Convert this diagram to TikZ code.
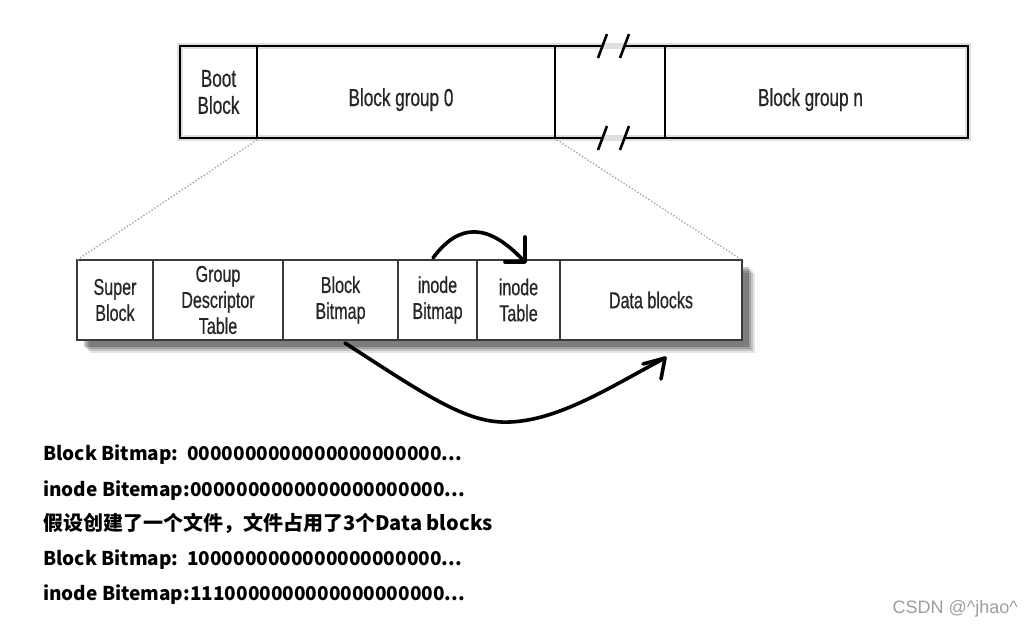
\documentclass[tikz,border=0pt]{standalone}
\usepackage{fontspec}
\usetikzlibrary{calc}
\newfontfamily\condfont{Liberation Sans}[FakeStretch=0.7, FakeBold=0.6]
\newfontfamily\cjkfont{Noto Sans CJK SC}
\newfontfamily\wmfont{Liberation Sans}
\definecolor{txtgray}{HTML}{262626}
\definecolor{lowline}{HTML}{3A3A3A}
\tikzset{
  topcell/.style={draw=black, line width=2.6pt, inner sep=0pt, outer sep=0pt, minimum height=92pt,
    align=center, text=txtgray, font=\fontsize{24.5}{27}\condfont},
  lowcell/.style={draw=lowline, fill=white, line width=1.6pt, inner sep=0pt, outer sep=0pt, minimum height=80pt,
    align=center, text=txtgray, font=\fontsize{23}{26}\condfont},
  zoomline/.style={draw=gray!75, line width=1.3pt, dotted},
  hand/.style={line width=3.6pt, line cap=round, line join=round},
  infotext/.style={anchor=base west, inner sep=0pt, font=\fontsize{19}{22}\cjkfont\bfseries},
}
\begin{document}
\begin{tikzpicture}[x=1pt,y=-1pt]
\useasboundingbox (0,0) rectangle (1034,627);
\fill[white] (0,0) rectangle (1034,627);

% faint halo of the top bar
\draw[gray!25, line width=6pt] (180,46) rectangle (968,138);

% top bar
\node[topcell, minimum width=77pt] (boot) at (218.5,92) {Boot\\Block};
\node[topcell, minimum width=298pt] (bg0) at (406,92) {\raisebox{-5pt}[18pt][0pt]{\hspace*{-10pt}Block group 0}};
\node[inner sep=0pt, outer sep=0pt, minimum width=110pt, minimum height=92pt] (gap) at (610,92) {};
\node[topcell, minimum width=303pt] (bgn) at (816.5,92) {\raisebox{-5pt}[18pt][0pt]{\hspace*{-12pt}Block group n}};

% top/bottom edges of the gap with break marks
\draw[line width=2.6pt] (gap.north west) -- ++(47,0);
\draw[line width=2.6pt] (gap.north east) -- ++(-40,0);
\draw[line width=2.6pt] (gap.south west) -- ++(47,0);
\draw[line width=2.6pt] (gap.south east) -- ++(-40,0);
\draw[line width=2.6pt] ($(gap.north)+(-12,12)$) -- ++(9,-24);
\draw[line width=2.6pt] ($(gap.north)+(10,12)$) -- ++(9,-24);
\draw[line width=2.6pt] ($(gap.south)+(-12,12)$) -- ++(9,-24);
\draw[line width=2.6pt] ($(gap.south)+(10,12)$) -- ++(9,-24);

% shadow of the lower bar
\foreach \d/\o in {13/0.10, 11/0.14, 9/0.18, 7/0.22}{
  \fill[black, opacity=\o] (77+\d,260+\d) rectangle (742+\d,340+\d);
}

% lower bar
\node[lowcell, minimum width=76pt] (sb) at (115,300) {Super\\Block};
\node[lowcell, minimum width=130pt] (gdt) at (218,300) {Group\\Descriptor\\Table};
\node[lowcell, minimum width=115pt] (bb) at (340.5,300) {Block\\Bitmap};
\node[lowcell, minimum width=79pt] (ib) at (437.5,300) {inode\\Bitmap};
\node[lowcell, minimum width=83pt] (it) at (518.5,300) {inode\\Table};
\node[lowcell, minimum width=182pt] (db) at (651,300) {Data blocks};

% zoom lines
\draw[zoomline] ($(boot.south east)+(0,2)$) -- (sb.north west);
\draw[zoomline] ($(bg0.south east)+(2,2)$) -- (db.north east);

% hand-drawn arrow inode Bitmap -> inode Table
\coordinate (t1) at ($(it.north)+(6.5,2)$);
\draw[hand] ($(ib.north)+(-4.5,-2)$) .. controls ($(ib.north)+(22,-38)$) and ($(it.north)+(-30,-36)$) .. ($(t1)+(-3,-3)$);
\draw[hand] ($(t1)+(0,-25)$) -- (t1) -- ++(-20,0);

% hand-drawn arrow Block Bitmap -> Data blocks
\coordinate (t2) at ($(db.south)+(14,18)$);
\draw[hand] ($(bb.south)+(4.5,3)$) .. controls (430,398) and (468,424) .. (510,422)
  .. controls (560,420) and (612,386) .. (t2);
\draw[hand] ($(t2)+(-22,6)$) -- (t2) -- ++(-4,21);

% text lines
\node[infotext] (l1) at (43,460) {Block Bitmap:\ \ 0000000000000000000000...};
\node[infotext] (l2) at (43,496) {inode Bitemap:0000000000000000000000...};
\node[infotext, font=\fontsize{20}{22}\cjkfont\bfseries] (l3) at (43,530) {假设创建了一个文件，文件占用了3个Data blocks};
\node[infotext] (l4) at (43,565) {Block Bitmap:\ \ 1000000000000000000000...};
\node[infotext] (l5) at (43,600) {inode Bitemap:1110000000000000000000...};

% watermark
\node[anchor=base east, inner sep=0pt, text=gray!75, font=\fontsize{18}{20}\wmfont] (wm) at (1018,613) {CSDN @\textasciicircum jhao\textasciicircum};
\end{tikzpicture}
\end{document}
